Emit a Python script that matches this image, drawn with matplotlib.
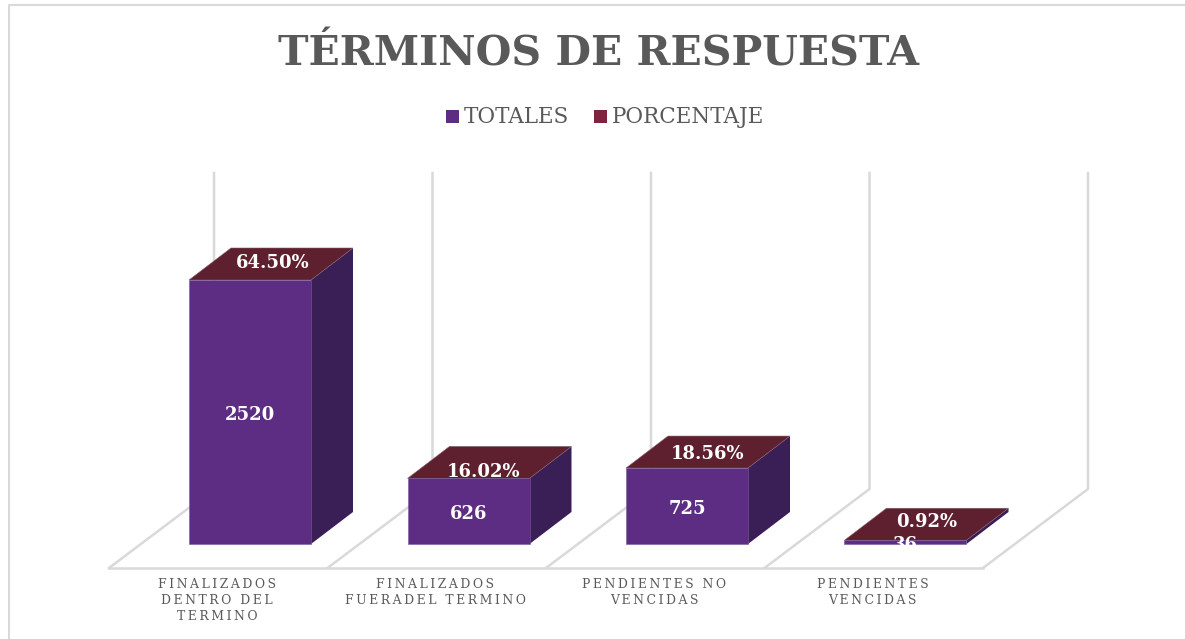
# plot.py
import matplotlib
matplotlib.use("Agg")
import matplotlib.pyplot as plt
from matplotlib.patches import Polygon, Rectangle

# data
categories = ["FINALIZADOS\nDENTRO DEL\nTERMINO", "FINALIZADOS\nFUERADEL TERMINO",
              "PENDIENTES NO\nVENCIDAS", "PENDIENTES\nVENCIDAS"]
totales = [2520, 626, 725, 36]
porcentaje = [64.50, 16.02, 18.56, 0.92]
legend_labels = ["TOTALES", "PORCENTAJE"]
title = "TÉRMINOS DE RESPUESTA"

# where each percent label sits, px from the bar's top-left corner
pct_off_x = [84, 76, 82, 82]
pct_off_y = [17, 6, 14, 18]

# colours
PURPLE = "#5c2d82"
PURPLE_DARK = "#3a1f56"
MAROON = "#5e1f2e"
MAROON_LEG = "#7f2340"
GRID = "#d9d9d9"
TXT = "#595959"

W, H = 1185, 639
fig = plt.figure(figsize=(W / 100, H / 100), dpi=100)

# x in category units, y in value units; scale
STEP_PX = 218.5
PX_PER_UNIT = 264 / 2520
X0_PX = 189       # left edge of the first bar
Y0_PX = 544       # base of the bars
ax = fig.add_axes([0, 0, 1, 1])
ax.set_xlim(-X0_PX / STEP_PX, (W - X0_PX) / STEP_PX)
ax.set_ylim(-(H - Y0_PX) / PX_PER_UNIT, Y0_PX / PX_PER_UNIT)
ax.axis("off")

bar_w = 122 / STEP_PX
dx = 42 / STEP_PX
dy = 32 / PX_PER_UNIT

# floor and walls
floor_x0 = -80 / STEP_PX
floor_y0 = -24 / PX_PER_UNIT
back_dx = 105 / STEP_PX
back_dy = 79 / PX_PER_UNIT
top_v = 371 / PX_PER_UNIT
n = len(categories)
ax.plot([floor_x0, floor_x0 + n], [floor_y0, floor_y0], color=GRID, lw=1.8, zorder=1)
for i in range(n + 1):
    fx = floor_x0 + i
    ax.plot([fx, fx + back_dx, fx + back_dx],
            [floor_y0, floor_y0 + back_dy, top_v], color=GRID, lw=1.8, zorder=1)

# bars
for i, (t, p) in enumerate(zip(totales, porcentaje)):
    ax.add_patch(Polygon([(i + bar_w, 0), (i + bar_w + dx, dy), (i + bar_w + dx, t + dy), (i + bar_w, t)],
                         fc=PURPLE_DARK, ec="none", zorder=2))
    ax.add_patch(Polygon([(i, t), (i + bar_w, t), (i + bar_w + dx, t + dy), (i + dx, t + dy)],
                         fc=MAROON, ec="#84606c", lw=0.4, zorder=3))
    ax.text(i + pct_off_x[i] / STEP_PX, t + pct_off_y[i] / PX_PER_UNIT, f"{p:.2f}%", color="white",
            family="DejaVu Serif", weight="bold", fontsize=13, ha="center", va="center", zorder=3.5)
    front = Rectangle((i, 0), bar_w, t, fc=PURPLE, ec="#7a5a9a", lw=0.4, zorder=4)
    ax.add_patch(front)
    lab = ax.text(i + bar_w / 2, t / 2 - 2.5 / PX_PER_UNIT, str(t), color="white", family="DejaVu Serif",
                  weight="bold", fontsize=13, ha="center", va="center", zorder=5)
    if t < 100:
        # the small bar's label runs off the floor of the bar
        lab.set_clip_path(Rectangle((i, 0), bar_w, t + dy, transform=ax.transData))

    # spaced axis labels
    spaced = "\n".join("\u2009".join(line) for line in categories[i].split("\n"))
    ax.text(i + bar_w / 2 - 33 / STEP_PX, -34.5 / PX_PER_UNIT, spaced, color=TXT, family="DejaVu Serif", fontsize=8.9,
            ha="center", va="top", linespacing=1.25)

# title and legend
fig.text(598.5 / W, 1 - 55 / H, title, color=TXT, family="DejaVu Serif", weight="bold", fontsize=29.5,
         ha="center", va="center")
for x_px, c, s in [(446, PURPLE, legend_labels[0]), (594, MAROON_LEG, legend_labels[1])]:
    fig.add_artist(Rectangle((x_px / W, 1 - 123 / H), 13 / W, 13 / H, transform=fig.transFigure, fc=c, ec="none"))
    fig.text((x_px + 18) / W, 1 - 117 / H, s, color=TXT, family="DejaVu Serif", fontsize=15.5, ha="left", va="center")

# chart frame: only top and left show in the crop
fig.add_artist(plt.Line2D([9 / W, 9 / W, 1], [0, 1 - 5 / H, 1 - 5 / H], color=GRID, lw=1.5))

fig.savefig("out.png", dpi=100)
